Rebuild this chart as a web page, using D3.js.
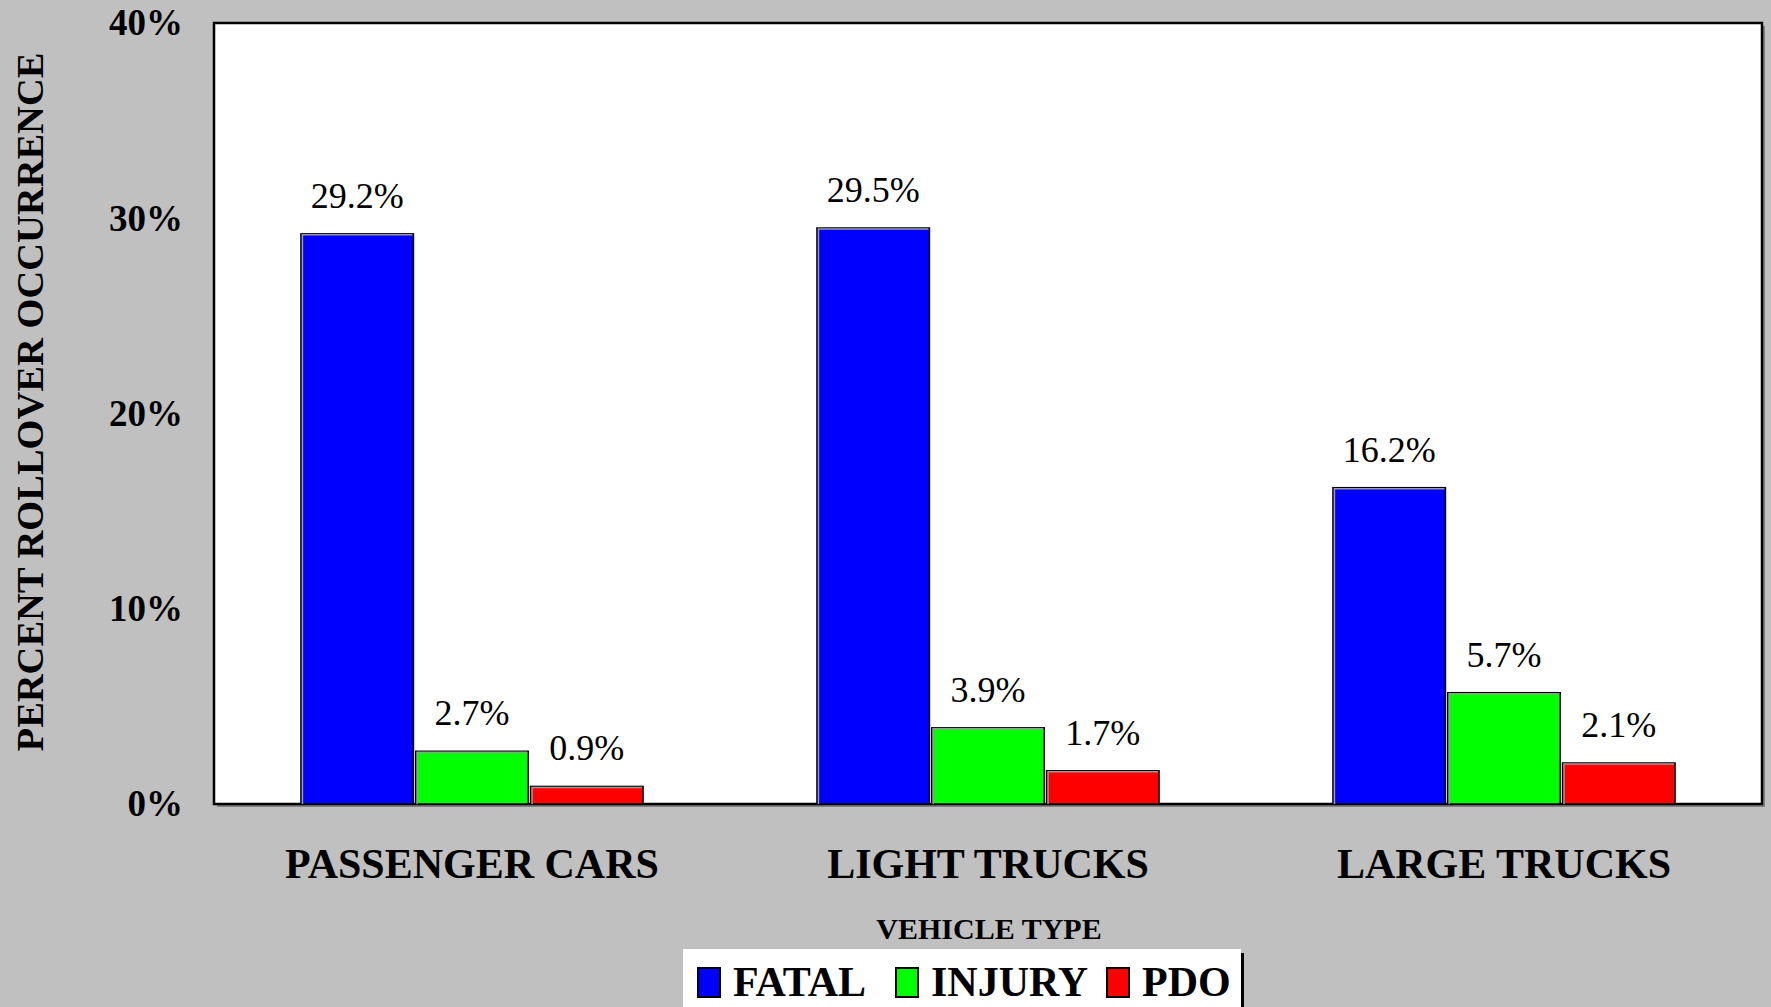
<!DOCTYPE html>
<html>
<head>
<meta charset="utf-8">
<script src="https://cdnjs.cloudflare.com/ajax/libs/d3/7.8.5/d3.min.js"></script>
<style>
  body { margin: 0; background: #c0c0c0; }
  svg { display: block; }
  text { font-family: "Liberation Serif", "Times New Roman", serif; }
</style>
</head>
<body>
<script>
var categories = ["PASSENGER CARS", "LIGHT TRUCKS", "LARGE TRUCKS"];
var seriesNames = ["FATAL", "INJURY", "PDO"];
var fatal = [29.2, 29.5, 16.2];
var injury = [2.7, 3.9, 5.7];
var pdo = [0.9, 1.7, 2.1];
var yTicks = [0, 10, 20, 30, 40];

var seriesValues = [fatal, injury, pdo];
var colors = ["#0000ff", "#00ff00", "#ff0000"];

var W = 1771, H = 1007;
var plot = {left: 214, top: 23, right: 1762, bottom: 804};

var svg = d3.select("body")
    .append("svg")
    .attr("width", W)
    .attr("height", H);

svg.append("rect")
    .attr("width", W)
    .attr("height", H)
    .attr("fill", "#c0c0c0");

var x0 = d3.scaleBand()
    .domain(categories)
    .range([plot.left, plot.right])
    .paddingInner(0.337)
    .paddingOuter(0.1685);

var x1 = d3.scaleBand()
    .domain(seriesNames)
    .range([0, x0.bandwidth()])
    .paddingInner(0.02);

var y = d3.scaleLinear()
    .domain([0, 40])
    .range([plot.bottom, plot.top]);

// plot area with a small drop shadow
svg.append("rect")
    .attr("x", plot.left + 3)
    .attr("y", plot.top + 3)
    .attr("width", plot.right - plot.left)
    .attr("height", plot.bottom - plot.top)
    .attr("fill", "#808080");
svg.append("rect")
    .attr("x", plot.left)
    .attr("y", plot.top)
    .attr("width", plot.right - plot.left)
    .attr("height", plot.bottom - plot.top)
    .attr("fill", "#ffffff")
    .attr("stroke", "#000")
    .attr("stroke-width", 2.5);

// rows: one entry per bar
var rows = [];
categories.forEach(function(c, i) {
    seriesNames.forEach(function(s, j) {
        rows.push({cat: c, series: s, value: seriesValues[j][i], color: colors[j]});
    });
});

var bars = svg.append("g")
    .attr("class", "bars")
    .selectAll("g")
    .data(rows)
    .enter()
    .append("g")
    .attr("transform", function(d) { return "translate(" + (x0(d.cat) + x1(d.series)) + ",0)"; });

bars.append("rect")
    .attr("x", 0)
    .attr("y", function(d) { return y(d.value); })
    .attr("width", x1.bandwidth())
    .attr("height", function(d) { return y(0) - y(d.value); })
    .attr("fill", function(d) { return d.color; })
    .attr("stroke", "#000")
    .attr("stroke-width", 1.5);

// light bevel on left and top edges
bars.append("path")
    .attr("d", function(d) {
        var yt = y(d.value) + 1, yb = y(0);
        return "M1.5," + yb + "L1.5," + yt + "L" + (x1.bandwidth() - 1) + "," + yt;
    })
    .attr("fill", "none")
    .attr("stroke", "#9a9a9a")
    .attr("stroke-width", 1.5);

bars.append("text")
    .attr("x", x1.bandwidth() / 2)
    .attr("y", function(d) { return y(d.value) - 26; })
    .attr("text-anchor", "middle")
    .attr("font-size", 36)
    .attr("fill", "#000")
    .text(function(d) { return d.value.toFixed(1) + "%"; });

// y axis labels
var yAxis = svg.append("g")
    .attr("transform", "translate(" + plot.left + ",0)")
    .call(d3.axisLeft(y).tickValues(yTicks).tickSize(0).tickPadding(31)
        .tickFormat(function(d) { return d + "%"; }));
yAxis.select(".domain").remove();
yAxis.selectAll("text")
    .attr("font-family", "Liberation Serif, Times New Roman, serif")
    .attr("font-size", 37)
    .attr("font-weight", "bold")
    .attr("fill", "#000");

svg.append("text")
    .attr("transform", "translate(43,402) rotate(-90)")
    .attr("text-anchor", "middle")
    .attr("font-size", 38.5)
    .attr("font-weight", "bold")
    .text("PERCENT ROLLOVER OCCURRENCE");

// category labels
svg.append("g")
    .selectAll("text")
    .data(categories)
    .enter()
    .append("text")
    .attr("x", function(d) { return x0(d) + x0.bandwidth() / 2; })
    .attr("y", 878)
    .attr("text-anchor", "middle")
    .attr("font-size", 42)
    .attr("font-weight", "bold")
    .text(function(d) { return d; });

svg.append("text")
    .attr("x", 989)
    .attr("y", 939)
    .attr("text-anchor", "middle")
    .attr("font-size", 30)
    .attr("font-weight", "bold")
    .text("VEHICLE TYPE");

// legend
var legend = svg.append("g").attr("class", "legend");
legend.append("rect")
    .attr("x", 1241)
    .attr("y", 953)
    .attr("width", 3)
    .attr("height", H - 953)
    .attr("fill", "#000");
legend.append("rect")
    .attr("x", 683)
    .attr("y", 949)
    .attr("width", 558)
    .attr("height", H - 949)
    .attr("fill", "#fff");

var legendX = [698, 896, 1107];
var item = legend.selectAll(".item")
    .data(seriesNames)
    .enter()
    .append("g")
    .attr("class", "item")
    .attr("transform", function(d, i) { return "translate(" + legendX[i] + ",0)"; });

item.append("rect")
    .attr("x", 0)
    .attr("y", 968)
    .attr("width", 22)
    .attr("height", 29)
    .attr("fill", function(d, i) { return colors[i]; })
    .attr("stroke", "#000")
    .attr("stroke-width", 2);

item.append("text")
    .attr("x", 35)
    .attr("y", 996)
    .attr("font-size", 42)
    .attr("font-weight", "bold")
    .text(function(d) { return d; });
</script>
</body>
</html>
